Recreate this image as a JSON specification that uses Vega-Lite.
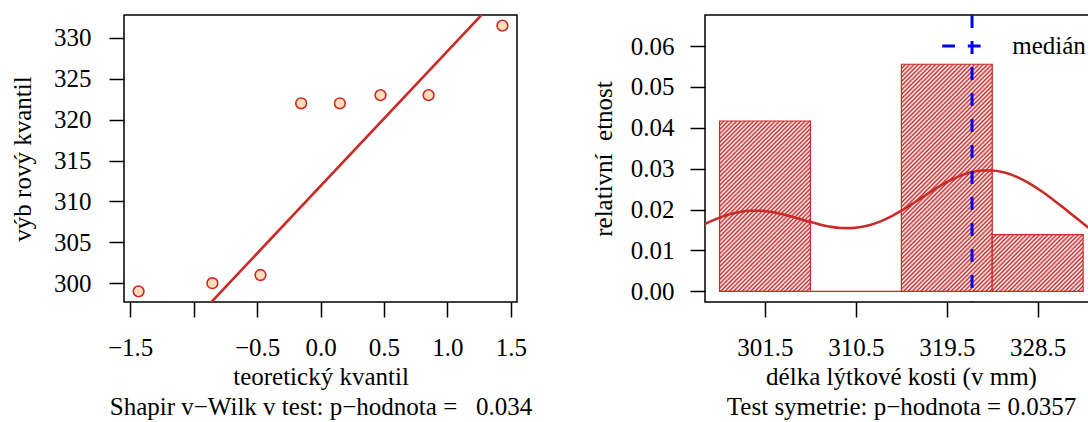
{
  "$schema": "https://vega.github.io/schema/vega-lite/v6.json",
  "autosize": {"type": "none"},
  "padding": {"left": 124, "top": 15, "right": 964, "bottom": 407},
  "background": "white",
  "spacing": 188,
  "bounds": "flush",
  "datasets": {
    "histogram": [
      {"delka": 297, "delka_do": 306, "hustota": 0.041667},
      {"delka": 306, "delka_do": 315, "hustota": 0},
      {"delka": 315, "delka_do": 324, "hustota": 0.055556},
      {"delka": 324, "delka_do": 333, "hustota": 0.013889}
    ],
    "jadro": [
      {"delka": 295, "hustota": 0.015738}, {"delka": 296, "hustota": 0.016989}, {"delka": 297, "hustota": 0.018046},
      {"delka": 298, "hustota": 0.018869}, {"delka": 299, "hustota": 0.019426}, {"delka": 300, "hustota": 0.019705},
      {"delka": 301, "hustota": 0.019709}, {"delka": 302, "hustota": 0.019460}, {"delka": 303, "hustota": 0.018999},
      {"delka": 304, "hustota": 0.018383}, {"delka": 305, "hustota": 0.017678}, {"delka": 306, "hustota": 0.016961},
      {"delka": 307, "hustota": 0.016311}, {"delka": 308, "hustota": 0.015804}, {"delka": 309, "hustota": 0.015504},
      {"delka": 310, "hustota": 0.015467}, {"delka": 311, "hustota": 0.015728}, {"delka": 312, "hustota": 0.016302},
      {"delka": 313, "hustota": 0.017182}, {"delka": 314, "hustota": 0.018338}, {"delka": 315, "hustota": 0.019722},
      {"delka": 316, "hustota": 0.021264}, {"delka": 317, "hustota": 0.022888}, {"delka": 318, "hustota": 0.024502},
      {"delka": 319, "hustota": 0.026019}, {"delka": 320, "hustota": 0.027354}, {"delka": 321, "hustota": 0.028428},
      {"delka": 322, "hustota": 0.029183}, {"delka": 323, "hustota": 0.029573}, {"delka": 324, "hustota": 0.029577},
      {"delka": 325, "hustota": 0.029189}, {"delka": 326, "hustota": 0.028429}, {"delka": 327, "hustota": 0.027328},
      {"delka": 328, "hustota": 0.025933}, {"delka": 329, "hustota": 0.024300}, {"delka": 330, "hustota": 0.022490},
      {"delka": 331, "hustota": 0.020564}, {"delka": 332, "hustota": 0.018582}, {"delka": 333, "hustota": 0.016596},
      {"delka": 334, "hustota": 0.014655}
    ]
  },
  "config": {
    "font": "Liberation Serif",
    "view": {"stroke": "black", "strokeWidth": 1.5},
    "axis": {
      "domain": false, "grid": false, "ticks": true, "tickSize": 15, "tickWidth": 1.5, "tickColor": "black",
      "labelFont": "Liberation Serif", "labelFontSize": 25, "labelColor": "black",
      "titleFont": "Liberation Serif", "titleFontSize": 25, "titleFontWeight": "normal", "titleColor": "black",
      "labelFlush": false, "labelOverlap": false, "labelBound": false
    },
    "axisBottom": {"labelPadding": 18, "titleBaseline": "alphabetic", "titleY": 82, "titleLineHeight": 30.7},
    "axisLeft": {"titleX": -102, "titleBaseline": "middle", "titleAngle": -90}
  },
  "hconcat": [
    {
      "width": 393,
      "height": 287,
      "layer": [
        {
          "data": {"values": [
            {"teor": -1.434, "vyb": 299},
            {"teor": -0.852, "vyb": 300},
            {"teor": -0.473, "vyb": 301},
            {"teor": -0.1525, "vyb": 322},
            {"teor": 0.1525, "vyb": 322},
            {"teor": 0.473, "vyb": 323},
            {"teor": 0.852, "vyb": 323},
            {"teor": 1.434, "vyb": 331.5}
          ]},
          "mark": {"type": "circle", "fill": "#FFDDB8", "stroke": "#CC2929", "strokeWidth": 1.6, "size": 115, "opacity": 1},
          "encoding": {
            "x": {"field": "teor", "type": "quantitative",
              "scale": {"domain": [-1.5487, 1.5487], "nice": false, "zero": false},
              "axis": {"values": [-1.5, -1, -0.5, 0, 0.5, 1, 1.5],
                "labelExpr": "datum.value == -1 ? '' : replace(format(datum.value, '.1f'), '-', '−')",
                "title": ["teoretický kvantil", "Shapir v−Wilk v test: p−hodnota =\u00a0\u00a0\u00a00.034"]}},
            "y": {"field": "vyb", "type": "quantitative",
              "scale": {"domain": [297.7, 332.8], "nice": false, "zero": false},
              "axis": {"values": [300, 305, 310, 315, 320, 325, 330], "labelPadding": 18, "title": "výb rový kvantil"}}
          }
        },
        {
          "data": {"values": [
            {"teor": -1.6, "vyb": 285.49},
            {"teor": 1.6, "vyb": 338.26}
          ]},
          "mark": {"type": "line", "clip": true, "color": "#CC2929", "strokeWidth": 2.6},
          "encoding": {
            "x": {"field": "teor", "type": "quantitative"},
            "y": {"field": "vyb", "type": "quantitative"}
          }
        }
      ]
    },
    {
      "width": 384,
      "height": 287,
      "layer": [
        {
          "data": {"name": "histogram"},
          "transform": [{"filter": "datum.delka == 297"}],
          "mark": {"type": "rect", "stroke": "#CC2929", "strokeWidth": 1.2,
            "fill": {"gradient": "linear", "x1": 0, "y1": 0, "x2": 0.63697, "y2": 1.19372, "stops": [
{"offset":0,"color":"#c62828"},{"offset":0.0082,"color":"#fff"},{"offset":0.0164,"color":"#c62828"},{"offset":0.0246,"color":"#fff"},{"offset":0.0328,"color":"#c62828"},{"offset":0.041,"color":"#fff"},{"offset":0.0492,"color":"#c62828"},{"offset":0.0574,"color":"#fff"},{"offset":0.0656,"color":"#c62828"},{"offset":0.0738,"color":"#fff"},
{"offset":0.082,"color":"#c62828"},{"offset":0.0902,"color":"#fff"},{"offset":0.0984,"color":"#c62828"},{"offset":0.1066,"color":"#fff"},{"offset":0.1148,"color":"#c62828"},{"offset":0.123,"color":"#fff"},{"offset":0.1312,"color":"#c62828"},{"offset":0.1394,"color":"#fff"},{"offset":0.1476,"color":"#c62828"},{"offset":0.1558,"color":"#fff"},
{"offset":0.164,"color":"#c62828"},{"offset":0.1722,"color":"#fff"},{"offset":0.1804,"color":"#c62828"},{"offset":0.1886,"color":"#fff"},{"offset":0.1968,"color":"#c62828"},{"offset":0.205,"color":"#fff"},{"offset":0.2132,"color":"#c62828"},{"offset":0.2214,"color":"#fff"},{"offset":0.2296,"color":"#c62828"},{"offset":0.2378,"color":"#fff"},
{"offset":0.246,"color":"#c62828"},{"offset":0.2542,"color":"#fff"},{"offset":0.2624,"color":"#c62828"},{"offset":0.2706,"color":"#fff"},{"offset":0.2788,"color":"#c62828"},{"offset":0.287,"color":"#fff"},{"offset":0.2952,"color":"#c62828"},{"offset":0.3034,"color":"#fff"},{"offset":0.3116,"color":"#c62828"},{"offset":0.3198,"color":"#fff"},
{"offset":0.328,"color":"#c62828"},{"offset":0.3362,"color":"#fff"},{"offset":0.3444,"color":"#c62828"},{"offset":0.3526,"color":"#fff"},{"offset":0.3608,"color":"#c62828"},{"offset":0.369,"color":"#fff"},{"offset":0.3772,"color":"#c62828"},{"offset":0.3854,"color":"#fff"},{"offset":0.3936,"color":"#c62828"},{"offset":0.4018,"color":"#fff"},
{"offset":0.41,"color":"#c62828"},{"offset":0.4182,"color":"#fff"},{"offset":0.4264,"color":"#c62828"},{"offset":0.4346,"color":"#fff"},{"offset":0.4428,"color":"#c62828"},{"offset":0.451,"color":"#fff"},{"offset":0.4592,"color":"#c62828"},{"offset":0.4674,"color":"#fff"},{"offset":0.4756,"color":"#c62828"},{"offset":0.4838,"color":"#fff"},
{"offset":0.492,"color":"#c62828"},{"offset":0.5002,"color":"#fff"},{"offset":0.5084,"color":"#c62828"},{"offset":0.5166,"color":"#fff"},{"offset":0.5248,"color":"#c62828"},{"offset":0.533,"color":"#fff"},{"offset":0.5412,"color":"#c62828"},{"offset":0.5494,"color":"#fff"},{"offset":0.5576,"color":"#c62828"},{"offset":0.5658,"color":"#fff"},
{"offset":0.574,"color":"#c62828"},{"offset":0.5822,"color":"#fff"},{"offset":0.5904,"color":"#c62828"},{"offset":0.5986,"color":"#fff"},{"offset":0.6068,"color":"#c62828"},{"offset":0.615,"color":"#fff"},{"offset":0.6232,"color":"#c62828"},{"offset":0.6314,"color":"#fff"},{"offset":0.6396,"color":"#c62828"},{"offset":0.6478,"color":"#fff"},
{"offset":0.656,"color":"#c62828"},{"offset":0.6642,"color":"#fff"},{"offset":0.6724,"color":"#c62828"},{"offset":0.6806,"color":"#fff"},{"offset":0.6888,"color":"#c62828"},{"offset":0.697,"color":"#fff"},{"offset":0.7052,"color":"#c62828"},{"offset":0.7134,"color":"#fff"},{"offset":0.7216,"color":"#c62828"},{"offset":0.7298,"color":"#fff"},
{"offset":0.738,"color":"#c62828"},{"offset":0.7462,"color":"#fff"},{"offset":0.7544,"color":"#c62828"},{"offset":0.7626,"color":"#fff"},{"offset":0.7708,"color":"#c62828"},{"offset":0.779,"color":"#fff"},{"offset":0.7872,"color":"#c62828"},{"offset":0.7954,"color":"#fff"},{"offset":0.8036,"color":"#c62828"},{"offset":0.8118,"color":"#fff"},
{"offset":0.82,"color":"#c62828"},{"offset":0.8282,"color":"#fff"},{"offset":0.8364,"color":"#c62828"},{"offset":0.8446,"color":"#fff"},{"offset":0.8528,"color":"#c62828"},{"offset":0.861,"color":"#fff"},{"offset":0.8692,"color":"#c62828"},{"offset":0.8774,"color":"#fff"},{"offset":0.8856,"color":"#c62828"},{"offset":0.8938,"color":"#fff"},
{"offset":0.902,"color":"#c62828"},{"offset":0.9102,"color":"#fff"},{"offset":0.9184,"color":"#c62828"},{"offset":0.9266,"color":"#fff"},{"offset":0.9348,"color":"#c62828"},{"offset":0.943,"color":"#fff"},{"offset":0.9512,"color":"#c62828"},{"offset":0.9594,"color":"#fff"},{"offset":0.9676,"color":"#c62828"},{"offset":0.9758,"color":"#fff"},
{"offset":0.984,"color":"#c62828"},{"offset":0.9922,"color":"#fff"}
            ]}},
          "encoding": {
            "x": {"field": "delka", "type": "quantitative",
              "scale": {"domain": [295.56, 333.58], "nice": false, "zero": false},
              "axis": {"values": [301.5, 310.5, 319.5, 328.5], "format": ".1f", "titleX": 196,
                "title": ["délka lýtkové kosti (v mm)", "Test symetrie: p−hodnota = 0.0357"]}},
            "x2": {"field": "delka_do"},
            "y": {"field": "hustota", "type": "quantitative",
              "scale": {"domain": [-0.0026, 0.0676], "nice": false, "zero": false},
              "axis": {"values": [0, 0.01, 0.02, 0.03, 0.04, 0.05, 0.06], "format": ".2f", "labelPadding": 16,
                "title": "relativní\u00a0\u00a0etnost"}},
            "y2": {"datum": 0}
          }
        },
        {
          "data": {"name": "histogram"},
          "transform": [{"filter": "datum.delka == 306"}],
          "mark": {"type": "rect", "stroke": "#CC2929", "strokeWidth": 1.2, "fill": null},
          "encoding": {
            "x": {"field": "delka", "type": "quantitative"},
            "x2": {"field": "delka_do"},
            "y": {"field": "hustota", "type": "quantitative"},
            "y2": {"datum": 0}
          }
        },
        {
          "data": {"name": "histogram"},
          "transform": [{"filter": "datum.delka == 315"}],
          "mark": {"type": "rect", "stroke": "#CC2929", "strokeWidth": 1.2,
            "fill": {"gradient": "linear", "x1": 0, "y1": 0, "x2": 0.48302, "y2": 1.2069, "stops": [
{"offset":0,"color":"#c62828"},{"offset":0.0068,"color":"#fff"},{"offset":0.0136,"color":"#c62828"},{"offset":0.0204,"color":"#fff"},{"offset":0.0272,"color":"#c62828"},{"offset":0.034,"color":"#fff"},{"offset":0.0408,"color":"#c62828"},{"offset":0.0476,"color":"#fff"},{"offset":0.0544,"color":"#c62828"},{"offset":0.0612,"color":"#fff"},
{"offset":0.068,"color":"#c62828"},{"offset":0.0748,"color":"#fff"},{"offset":0.0816,"color":"#c62828"},{"offset":0.0884,"color":"#fff"},{"offset":0.0952,"color":"#c62828"},{"offset":0.102,"color":"#fff"},{"offset":0.1088,"color":"#c62828"},{"offset":0.1156,"color":"#fff"},{"offset":0.1224,"color":"#c62828"},{"offset":0.1292,"color":"#fff"},
{"offset":0.136,"color":"#c62828"},{"offset":0.1428,"color":"#fff"},{"offset":0.1496,"color":"#c62828"},{"offset":0.1564,"color":"#fff"},{"offset":0.1632,"color":"#c62828"},{"offset":0.17,"color":"#fff"},{"offset":0.1768,"color":"#c62828"},{"offset":0.1836,"color":"#fff"},{"offset":0.1904,"color":"#c62828"},{"offset":0.1972,"color":"#fff"},
{"offset":0.204,"color":"#c62828"},{"offset":0.2108,"color":"#fff"},{"offset":0.2176,"color":"#c62828"},{"offset":0.2244,"color":"#fff"},{"offset":0.2312,"color":"#c62828"},{"offset":0.238,"color":"#fff"},{"offset":0.2448,"color":"#c62828"},{"offset":0.2516,"color":"#fff"},{"offset":0.2584,"color":"#c62828"},{"offset":0.2652,"color":"#fff"},
{"offset":0.272,"color":"#c62828"},{"offset":0.2788,"color":"#fff"},{"offset":0.2856,"color":"#c62828"},{"offset":0.2924,"color":"#fff"},{"offset":0.2992,"color":"#c62828"},{"offset":0.306,"color":"#fff"},{"offset":0.3128,"color":"#c62828"},{"offset":0.3196,"color":"#fff"},{"offset":0.3264,"color":"#c62828"},{"offset":0.3332,"color":"#fff"},
{"offset":0.34,"color":"#c62828"},{"offset":0.3468,"color":"#fff"},{"offset":0.3536,"color":"#c62828"},{"offset":0.3604,"color":"#fff"},{"offset":0.3672,"color":"#c62828"},{"offset":0.374,"color":"#fff"},{"offset":0.3808,"color":"#c62828"},{"offset":0.3876,"color":"#fff"},{"offset":0.3944,"color":"#c62828"},{"offset":0.4012,"color":"#fff"},
{"offset":0.408,"color":"#c62828"},{"offset":0.4148,"color":"#fff"},{"offset":0.4216,"color":"#c62828"},{"offset":0.4284,"color":"#fff"},{"offset":0.4352,"color":"#c62828"},{"offset":0.442,"color":"#fff"},{"offset":0.4488,"color":"#c62828"},{"offset":0.4556,"color":"#fff"},{"offset":0.4624,"color":"#c62828"},{"offset":0.4692,"color":"#fff"},
{"offset":0.476,"color":"#c62828"},{"offset":0.4828,"color":"#fff"},{"offset":0.4896,"color":"#c62828"},{"offset":0.4964,"color":"#fff"},{"offset":0.5032,"color":"#c62828"},{"offset":0.51,"color":"#fff"},{"offset":0.5168,"color":"#c62828"},{"offset":0.5236,"color":"#fff"},{"offset":0.5304,"color":"#c62828"},{"offset":0.5372,"color":"#fff"},
{"offset":0.544,"color":"#c62828"},{"offset":0.5508,"color":"#fff"},{"offset":0.5576,"color":"#c62828"},{"offset":0.5644,"color":"#fff"},{"offset":0.5712,"color":"#c62828"},{"offset":0.578,"color":"#fff"},{"offset":0.5848,"color":"#c62828"},{"offset":0.5916,"color":"#fff"},{"offset":0.5984,"color":"#c62828"},{"offset":0.6052,"color":"#fff"},
{"offset":0.612,"color":"#c62828"},{"offset":0.6188,"color":"#fff"},{"offset":0.6256,"color":"#c62828"},{"offset":0.6324,"color":"#fff"},{"offset":0.6392,"color":"#c62828"},{"offset":0.646,"color":"#fff"},{"offset":0.6528,"color":"#c62828"},{"offset":0.6596,"color":"#fff"},{"offset":0.6664,"color":"#c62828"},{"offset":0.6732,"color":"#fff"},
{"offset":0.68,"color":"#c62828"},{"offset":0.6868,"color":"#fff"},{"offset":0.6936,"color":"#c62828"},{"offset":0.7004,"color":"#fff"},{"offset":0.7072,"color":"#c62828"},{"offset":0.714,"color":"#fff"},{"offset":0.7208,"color":"#c62828"},{"offset":0.7276,"color":"#fff"},{"offset":0.7344,"color":"#c62828"},{"offset":0.7412,"color":"#fff"},
{"offset":0.748,"color":"#c62828"},{"offset":0.7548,"color":"#fff"},{"offset":0.7616,"color":"#c62828"},{"offset":0.7684,"color":"#fff"},{"offset":0.7752,"color":"#c62828"},{"offset":0.782,"color":"#fff"},{"offset":0.7888,"color":"#c62828"},{"offset":0.7956,"color":"#fff"},{"offset":0.8024,"color":"#c62828"},{"offset":0.8092,"color":"#fff"},
{"offset":0.816,"color":"#c62828"},{"offset":0.8228,"color":"#fff"},{"offset":0.8296,"color":"#c62828"},{"offset":0.8364,"color":"#fff"},{"offset":0.8432,"color":"#c62828"},{"offset":0.85,"color":"#fff"},{"offset":0.8568,"color":"#c62828"},{"offset":0.8636,"color":"#fff"},{"offset":0.8704,"color":"#c62828"},{"offset":0.8772,"color":"#fff"},
{"offset":0.884,"color":"#c62828"},{"offset":0.8908,"color":"#fff"},{"offset":0.8976,"color":"#c62828"},{"offset":0.9044,"color":"#fff"},{"offset":0.9112,"color":"#c62828"},{"offset":0.918,"color":"#fff"},{"offset":0.9248,"color":"#c62828"},{"offset":0.9316,"color":"#fff"},{"offset":0.9384,"color":"#c62828"},{"offset":0.9452,"color":"#fff"},
{"offset":0.952,"color":"#c62828"},{"offset":0.9588,"color":"#fff"},{"offset":0.9656,"color":"#c62828"},{"offset":0.9724,"color":"#fff"},{"offset":0.9792,"color":"#c62828"},{"offset":0.986,"color":"#fff"},{"offset":0.9928,"color":"#c62828"},{"offset":0.9996,"color":"#fff"}
            ]}},
          "encoding": {
            "x": {"field": "delka", "type": "quantitative"},
            "x2": {"field": "delka_do"},
            "y": {"field": "hustota", "type": "quantitative"},
            "y2": {"datum": 0}
          }
        },
        {
          "data": {"name": "histogram"},
          "transform": [{"filter": "datum.delka == 324"}],
          "mark": {"type": "rect", "stroke": "#CC2929", "strokeWidth": 1.2,
            "fill": {"gradient": "linear", "x1": 0, "y1": 0, "x2": 1.16866, "y2": 0.73, "stops": [
{"offset":0,"color":"#c62828"},{"offset":0.0146,"color":"#fff"},{"offset":0.0292,"color":"#c62828"},{"offset":0.0438,"color":"#fff"},{"offset":0.0584,"color":"#c62828"},{"offset":0.073,"color":"#fff"},{"offset":0.0876,"color":"#c62828"},{"offset":0.1022,"color":"#fff"},{"offset":0.1168,"color":"#c62828"},{"offset":0.1314,"color":"#fff"},
{"offset":0.146,"color":"#c62828"},{"offset":0.1606,"color":"#fff"},{"offset":0.1752,"color":"#c62828"},{"offset":0.1898,"color":"#fff"},{"offset":0.2044,"color":"#c62828"},{"offset":0.219,"color":"#fff"},{"offset":0.2336,"color":"#c62828"},{"offset":0.2482,"color":"#fff"},{"offset":0.2628,"color":"#c62828"},{"offset":0.2774,"color":"#fff"},
{"offset":0.292,"color":"#c62828"},{"offset":0.3066,"color":"#fff"},{"offset":0.3212,"color":"#c62828"},{"offset":0.3358,"color":"#fff"},{"offset":0.3504,"color":"#c62828"},{"offset":0.365,"color":"#fff"},{"offset":0.3796,"color":"#c62828"},{"offset":0.3942,"color":"#fff"},{"offset":0.4088,"color":"#c62828"},{"offset":0.4234,"color":"#fff"},
{"offset":0.438,"color":"#c62828"},{"offset":0.4526,"color":"#fff"},{"offset":0.4672,"color":"#c62828"},{"offset":0.4818,"color":"#fff"},{"offset":0.4964,"color":"#c62828"},{"offset":0.511,"color":"#fff"},{"offset":0.5256,"color":"#c62828"},{"offset":0.5402,"color":"#fff"},{"offset":0.5548,"color":"#c62828"},{"offset":0.5694,"color":"#fff"},
{"offset":0.584,"color":"#c62828"},{"offset":0.5986,"color":"#fff"},{"offset":0.6132,"color":"#c62828"},{"offset":0.6278,"color":"#fff"},{"offset":0.6424,"color":"#c62828"},{"offset":0.657,"color":"#fff"},{"offset":0.6716,"color":"#c62828"},{"offset":0.6862,"color":"#fff"},{"offset":0.7008,"color":"#c62828"},{"offset":0.7154,"color":"#fff"},
{"offset":0.73,"color":"#c62828"},{"offset":0.7446,"color":"#fff"},{"offset":0.7592,"color":"#c62828"},{"offset":0.7738,"color":"#fff"},{"offset":0.7884,"color":"#c62828"},{"offset":0.803,"color":"#fff"},{"offset":0.8176,"color":"#c62828"},{"offset":0.8322,"color":"#fff"},{"offset":0.8468,"color":"#c62828"},{"offset":0.8614,"color":"#fff"},
{"offset":0.876,"color":"#c62828"},{"offset":0.8906,"color":"#fff"},{"offset":0.9052,"color":"#c62828"},{"offset":0.9198,"color":"#fff"},{"offset":0.9344,"color":"#c62828"},{"offset":0.949,"color":"#fff"},{"offset":0.9636,"color":"#c62828"},{"offset":0.9782,"color":"#fff"},{"offset":0.9928,"color":"#c62828"}
            ]}},
          "encoding": {
            "x": {"field": "delka", "type": "quantitative"},
            "x2": {"field": "delka_do"},
            "y": {"field": "hustota", "type": "quantitative"},
            "y2": {"datum": 0}
          }
        },
        {
          "data": {"name": "jadro"},
          "mark": {"type": "line", "clip": true, "color": "#CC2929", "strokeWidth": 2.6, "interpolate": "monotone"},
          "encoding": {
            "x": {"field": "delka", "type": "quantitative"},
            "y": {"field": "hustota", "type": "quantitative"}
          }
        },
        {
          "data": {"values": [{"delka": 322, "popis": "medián"}]},
          "mark": {"type": "rule", "strokeDash": [13, 13], "strokeWidth": 3},
          "encoding": {
            "x": {"field": "delka", "type": "quantitative"},
            "color": {"field": "popis", "type": "nominal",
              "scale": {"range": ["#0000FF"]},
              "legend": {"title": null, "orient": "none", "legendX": 816.4, "legendY": 10, "padding": 0,
                "symbolType": "stroke", "symbolSize": 1475, "symbolStrokeWidth": 3, "symbolDash": [12.8, 12.8],
                "symbolStrokeColor": "#0000FF",
                "labelFont": "Liberation Serif", "labelFontSize": 25, "labelColor": "black", "labelOffset": 29.8}}
          }
        }
      ]
    }
  ]
}
